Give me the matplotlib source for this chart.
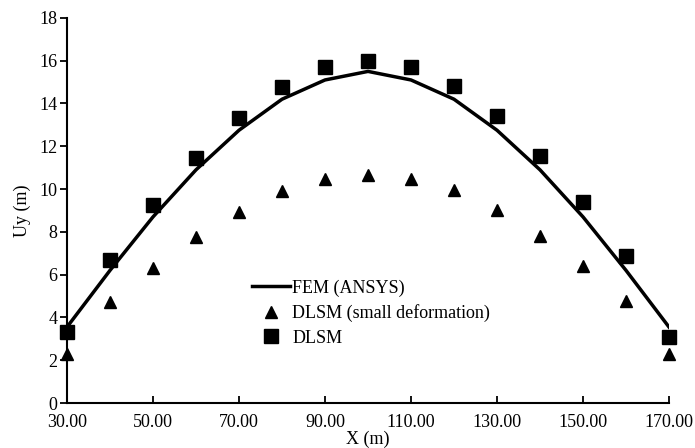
import matplotlib.pyplot as plt

plt.rcParams['font.family'] = ['Liberation Serif', 'DejaVu Serif']

x = [30, 40, 50, 60, 70, 80, 90, 100, 110, 120, 130, 140, 150, 160, 170]
fem = [3.55, 6.2, 8.7, 10.9, 12.75, 14.2, 15.1, 15.5, 15.1, 14.2, 12.75, 10.9, 8.7, 6.2, 3.55]
dlsm_small = [2.3, 4.7, 6.3, 7.75, 8.95, 9.9, 10.45, 10.65, 10.45, 9.95, 9.0, 7.8, 6.4, 4.75, 2.3]
dlsm = [3.3, 6.7, 9.25, 11.45, 13.3, 14.75, 15.7, 16.0, 15.7, 14.8, 13.4, 11.55, 9.4, 6.85, 3.1]

xticks = [30, 50, 70, 90, 110, 130, 150, 170]
yticks = list(range(0, 19, 2))


def main():
    fig = plt.figure(figsize=(6.95, 4.48), dpi=100)
    ax = fig.add_axes([0.0964, 0.1004, 0.8662, 0.8596])

    ax.plot(x, fem, color='black', lw=2.5, label='FEM (ANSYS)')
    ax.plot(x, dlsm_small, '^', color='black', ms=9, ls='none',
            label='DLSM (small deformation)', clip_on=False)
    ax.plot(x, dlsm, 's', color='black', ms=10, ls='none', label='DLSM',
            clip_on=False)

    ax.set_xlim(30, 170)
    ax.set_ylim(0, 18)
    ax.set_xticks(xticks)
    ax.set_xticklabels(['%.2f' % v for v in xticks])
    ax.set_yticks(yticks)
    ax.tick_params(axis='both', labelsize=13, width=1.3, length=5)
    ax.tick_params(axis='x', direction='in', pad=8)
    ax.tick_params(axis='y', direction='out', pad=2)
    for s in ['top', 'right']:
        ax.spines[s].set_visible(False)
    for s in ['left', 'bottom']:
        ax.spines[s].set_linewidth(1.5)

    ax.set_xlabel('X (m)', fontsize=13, labelpad=0)
    ax.set_ylabel('Uy (m)', fontsize=13, labelpad=6)

    ax.legend(loc='upper left', bbox_to_anchor=(0.295, 0.34), frameon=False,
              fontsize=13, handlelength=2.1, handletextpad=0.15,
              labelspacing=0.42, borderaxespad=0)

    fig.savefig('out.png', dpi=100)


if __name__ == "__main__":
    main()
